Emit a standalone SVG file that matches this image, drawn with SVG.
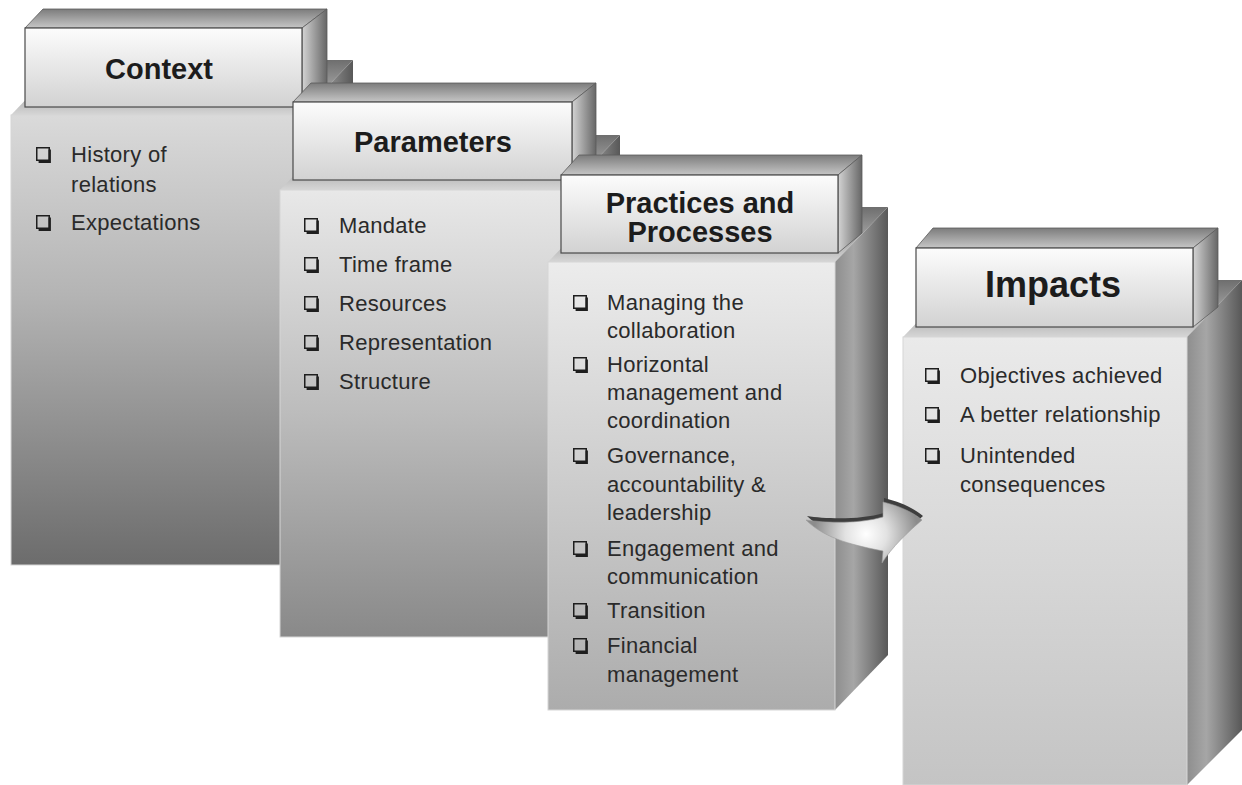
<svg xmlns="http://www.w3.org/2000/svg" xmlns:xlink="http://www.w3.org/1999/xlink" width="1242" height="785" viewBox="0 0 1242 785">
<style>
.hf{fill:url(#gHeadFront);stroke:#4a4a4a;stroke-width:1.2}
.ht{fill:url(#gHeadTop);stroke:#5a5a5a;stroke-width:0.8}
.hr{fill:url(#gHeadRight);stroke:#5a5a5a;stroke-width:0.8}
.bt{fill:url(#gBodyTop)}
.br{fill:url(#gBodyRight)}
.bf{stroke:#d6d6d6;stroke-width:1}
.title{font-family:"Liberation Sans",Arial,sans-serif;font-weight:bold;font-size:29px;fill:#1c1c1c;text-anchor:middle}
.big{font-size:36px}
.item{font-family:"Liberation Sans",Arial,sans-serif;font-size:22px;letter-spacing:0.3px;fill:#2a2a2a}
</style>
<defs>
<linearGradient id="gHeadFront" x1="0" y1="0" x2="0" y2="1"><stop offset="0" stop-color="#fcfcfc"/><stop offset="1" stop-color="#d2d2d2"/></linearGradient>
<linearGradient id="gHeadTop" x1="0" y1="0" x2="0" y2="1"><stop offset="0" stop-color="#7c7c7c"/><stop offset="1" stop-color="#c6c6c6"/></linearGradient>
<linearGradient id="gHeadRight" x1="0" y1="0" x2="1" y2="0"><stop offset="0" stop-color="#d4d4d4"/><stop offset="1" stop-color="#666"/></linearGradient>
<linearGradient id="gBodyTop" x1="0" y1="0" x2="0" y2="1"><stop offset="0" stop-color="#6e6e6e"/><stop offset="0.6" stop-color="#a8a8a8"/><stop offset="1" stop-color="#d6d6d6"/></linearGradient>
<linearGradient id="gBodyRight" x1="0" y1="0" x2="1" y2="0"><stop offset="0" stop-color="#8e8e8e"/><stop offset="0.35" stop-color="#a6a6a6"/><stop offset="1" stop-color="#585858"/></linearGradient>
<linearGradient id="gCtx" x1="0" y1="0" x2="0" y2="1"><stop offset="0" stop-color="#dadada"/><stop offset="0.4" stop-color="#b4b4b4"/><stop offset="1" stop-color="#6c6c6c"/></linearGradient>
<linearGradient id="gPar" x1="0" y1="0" x2="0" y2="1"><stop offset="0" stop-color="#e8e8e8"/><stop offset="0.5" stop-color="#bcbcbc"/><stop offset="1" stop-color="#898989"/></linearGradient>
<linearGradient id="gPra" x1="0" y1="0" x2="0" y2="1"><stop offset="0" stop-color="#ececec"/><stop offset="1" stop-color="#acacac"/></linearGradient>
<linearGradient id="gImp" x1="0" y1="0" x2="0" y2="1"><stop offset="0" stop-color="#eaeaea"/><stop offset="1" stop-color="#c4c4c4"/></linearGradient>
<radialGradient id="gArrow" gradientUnits="userSpaceOnUse" cx="866" cy="534" r="52"><stop offset="0" stop-color="#ffffff"/><stop offset="0.4" stop-color="#e2e2e2"/><stop offset="1" stop-color="#8c8c8c"/></radialGradient>
<symbol id="cb" overflow="visible">
<path d="M13.7,2.6 V14.7 H2.6" fill="none" stroke="#1e1e1e" stroke-width="2.4"/>
<rect x="0.75" y="0.75" width="12.5" height="12.5" fill="none" stroke="#1e1e1e" stroke-width="1.5"/>
</symbol>
</defs>
<rect width="1242" height="785" fill="#fff"/>

<g id="context">
<polygon class="bt" points="11,115 300,115 353,60 64,60"/>
<polygon class="br" points="300,115 353,60 353,510 300,565"/>
<rect class="bf" x="11" y="115" width="289" height="450" fill="url(#gCtx)"/>
<polygon class="ht" points="25,28 302,28 327,9 43,9"/>
<polygon class="hr" points="302,28 327,9 327,88 302,107"/>
<rect class="hf" x="25" y="28" width="277" height="79"/>
<text class="title" x="159" y="79">Context</text>
<use href="#cb" x="36" y="147"/>
<text class="item" x="71" y="162">History of</text>
<text class="item" x="71" y="192">relations</text>
<use href="#cb" x="36" y="215"/>
<text class="item" x="71" y="230">Expectations</text>
</g>

<g id="parameters">
<polygon class="bt" points="280,190 567,190 620,135 333,135"/>
<polygon class="br" points="567,190 620,135 620,582 567,637"/>
<rect class="bf" x="280" y="190" width="287" height="447" fill="url(#gPar)"/>
<polygon class="ht" points="293,102 572,102 596,83 311,83"/>
<polygon class="hr" points="572,102 596,83 596,160 572,180"/>
<rect class="hf" x="293" y="102" width="279" height="78"/>
<text class="title" x="433" y="152">Parameters</text>
<use href="#cb" x="304" y="218"/>
<text class="item" x="339" y="233">Mandate</text>
<use href="#cb" x="304" y="257"/>
<text class="item" x="339" y="272">Time frame</text>
<use href="#cb" x="304" y="296"/>
<text class="item" x="339" y="311">Resources</text>
<use href="#cb" x="304" y="335"/>
<text class="item" x="339" y="350">Representation</text>
<use href="#cb" x="304" y="374"/>
<text class="item" x="339" y="389">Structure</text>
</g>

<g id="practices">
<polygon class="bt" points="548,262 835,262 888,207 601,207"/>
<polygon class="br" points="835,262 888,207 888,655 835,710"/>
<rect class="bf" x="548" y="262" width="287" height="448" fill="url(#gPra)"/>
<polygon class="ht" points="561,175 838,175 862,155 579,155"/>
<polygon class="hr" points="838,175 862,155 862,233 838,253"/>
<rect class="hf" x="561" y="175" width="277" height="78"/>
<text class="title" x="700" y="213">Practices and</text>
<text class="title" x="700" y="242">Processes</text>
<use href="#cb" x="573" y="295"/>
<text class="item" x="607" y="310">Managing the</text>
<text class="item" x="607" y="338">collaboration</text>
<use href="#cb" x="573" y="357"/>
<text class="item" x="607" y="372">Horizontal</text>
<text class="item" x="607" y="400">management and</text>
<text class="item" x="607" y="428">coordination</text>
<use href="#cb" x="573" y="448"/>
<text class="item" x="607" y="463">Governance,</text>
<text class="item" x="607" y="492">accountability &amp;</text>
<text class="item" x="607" y="520">leadership</text>
<use href="#cb" x="573" y="541"/>
<text class="item" x="607" y="556">Engagement and</text>
<text class="item" x="607" y="584">communication</text>
<use href="#cb" x="573" y="603"/>
<text class="item" x="607" y="618">Transition</text>
<use href="#cb" x="573" y="638"/>
<text class="item" x="607" y="653">Financial</text>
<text class="item" x="607" y="682">management</text>
</g>

<g id="impacts">
<polygon class="bt" points="903,337 1187,337 1242,280 958,280"/>
<polygon class="br" points="1187,337 1242,280 1242,730 1187,785"/>
<rect class="bf" x="903" y="337" width="284" height="448" fill="url(#gImp)"/>
<polygon class="ht" points="916,248 1193,248 1218,228 933,228"/>
<polygon class="hr" points="1193,248 1218,228 1218,307 1193,327"/>
<rect class="hf" x="916" y="248" width="277" height="79"/>
<text class="title big" x="1053" y="297">Impacts</text>
<use href="#cb" x="925" y="368"/>
<text class="item" x="960" y="383">Objectives achieved</text>
<use href="#cb" x="925" y="407"/>
<text class="item" x="960" y="422">A better relationship</text>
<use href="#cb" x="925" y="448"/>
<text class="item" x="960" y="463">Unintended</text>
<text class="item" x="960" y="492">consequences</text>
</g>

<g id="connectors">
<path transform="translate(1,-4)" fill="#3e3e3e" d="M806,520 C825,523 860,524 883,517 L883,502 C900,506 914,513 922,520 C908,532 892,547 882,563 L883,551 C858,546 826,540 806,520 Z"/>
<path fill="url(#gArrow)" stroke="#9a9a9a" stroke-width="0.6" d="M806,520 C825,523 860,524 883,517 L883,502 C900,506 914,513 922,520 C908,532 892,547 882,563 L883,551 C858,546 826,540 806,520 Z"/>
</g>
</svg>
